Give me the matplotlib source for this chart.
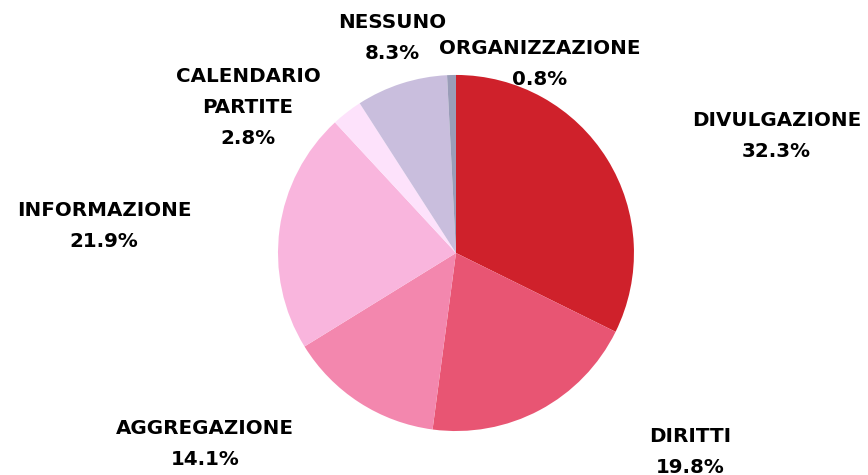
import matplotlib
matplotlib.use("Agg")
import matplotlib.pyplot as plt

labels = ["DIVULGAZIONE", "DIRITTI", "AGGREGAZIONE", "INFORMAZIONE",
          "CALENDARIO\nPARTITE", "NESSUNO", "ORGANIZZAZIONE"]
values = [32.3, 19.8, 14.1, 21.9, 2.8, 8.3, 0.8]
colors = ["#cf212b", "#e85573", "#f387ae", "#f9b5dd", "#fde2fb", "#c9bedd", "#9a9db8"]

# label anchor points, in pie-radius units
label_pos = [(1.80, 0.657), (1.315, -1.118), (-1.41, -1.073), (-1.978, 0.152),
             (-1.169, 0.815), (-0.36, 1.208), (0.472, 1.062)]

fig = plt.figure(figsize=(8.68, 4.75), dpi=100)
ax = fig.add_axes([0, 0, 1, 1])
ax.pie(values, colors=colors, startangle=90, counterclock=False,
       radius=1.0, center=(0, 0), wedgeprops=dict(linewidth=0))
ax.set_xlim(-2.562, 2.315)
ax.set_ylim(-1.247, 1.421)
ax.set_aspect("auto")
ax.axis("off")

for lab, v, (x, y) in zip(labels, values, label_pos):
    ax.text(x, y, f"{lab}\n{v}%", ha="center", va="center", fontsize=14.3,
            fontweight="bold", family=["DejaVu Sans"],
            color="#000000", linespacing=1.8)

fig.savefig("out.png", dpi=100)
